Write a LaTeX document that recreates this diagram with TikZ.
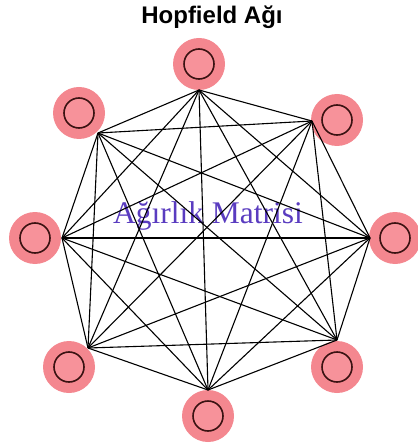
\documentclass[tikz,border=0pt]{standalone}
\usepackage{fontspec}
\setmainfont{Liberation Serif}
\newfontfamily\titlefont{Liberation Sans}
\definecolor{halo}{HTML}{F4878F}
\definecolor{core}{HTML}{F7929A}
\definecolor{ring}{HTML}{3A1212}
\definecolor{mlabel}{HTML}{5A3CC0}
\tikzset{
  halonode/.style={circle,fill=halo,minimum size=52pt,inner sep=0pt},
  corenode/.style={circle,fill=core,draw=ring,line width=1.6pt,minimum size=30pt,inner sep=0pt},
  link/.style={draw=black,line width=1.1pt},
}
\begin{document}
\begin{tikzpicture}[x=1pt,y=-1pt]
\useasboundingbox (0,0) rectangle (417,443);
\node[font=\titlefont\bfseries\fontsize{24}{28}\selectfont,anchor=base] (title) at (212,24) {Hopfield Ağı};
% neurons
\foreach \n/\x/\y in {n1/199/64, n2/337/120, n3/395/238, n4/337/367, n5/208/416, n6/69/367, n7/35/238, n8/79/113}{
  \node[halonode] (\n h) at (\x,\y) {};
  \node[corenode] (\n) at (\x,\y) {};
}
% connection points
\coordinate (p1) at (199,90);
\coordinate (p2) at (312,121);
\coordinate (p3) at (370,238);
\coordinate (p4) at (337,340);
\coordinate (p5) at (208,390);
\coordinate (p6) at (88,348);
\coordinate (p7) at (62,238);
\coordinate (p8) at (98,133);
\node[font=\fontsize{31.5}{36}\selectfont,text=mlabel,anchor=base] (w) at (208,223) {Ağırlık Matrisi};
\foreach \i in {1,...,8}{
  \foreach \j in {1,...,8}{
    \ifnum\i<\j \draw[link] (p\i) -- (p\j); \fi
  }
}
\end{tikzpicture}
\end{document}
